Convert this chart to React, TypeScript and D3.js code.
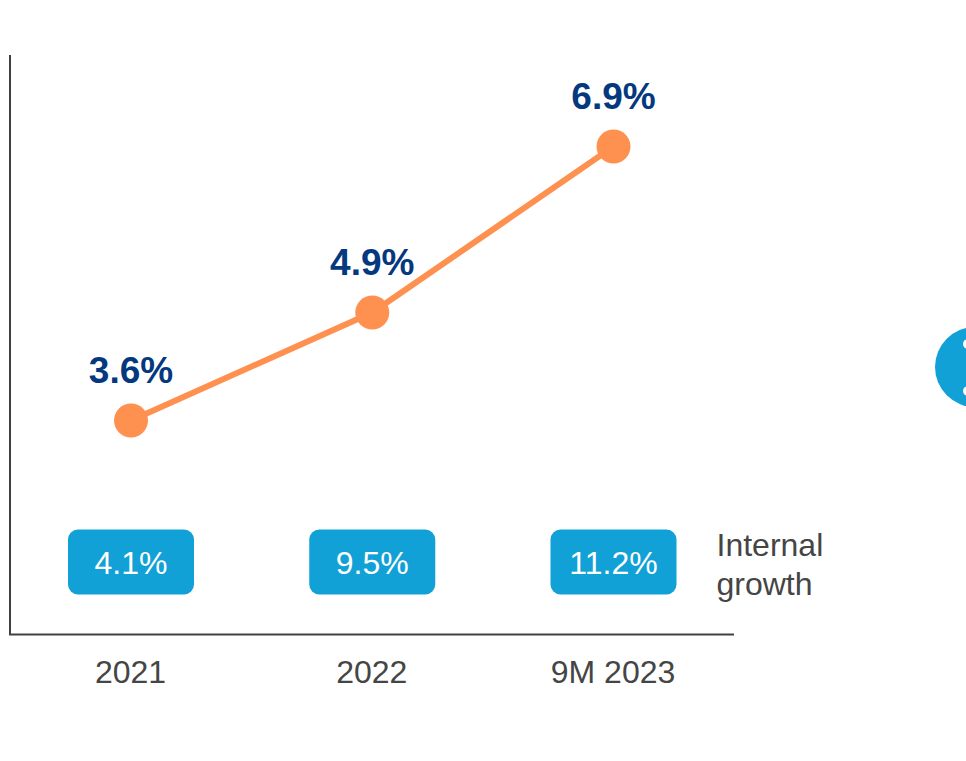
import React from "react";
import * as d3 from "d3";

const categories = ["2021", "2022", "9M 2023"];
const margins = [3.6, 4.9, 6.9];
const marginLabels = ["3.6%", "4.9%", "6.9%"];
const internalGrowth = ["4.1%", "9.5%", "11.2%"];
const growthTitle = ["Internal", "growth"];

const font = "Liberation Sans, Arial, sans-serif";

export default function App() {
  const x = d3.scalePoint<string>().domain(categories).range([131, 613.5]);
  // Two anchors on the vertical axis: 3.6% and 6.9%
  const y = d3.scaleLinear().domain([3.6, 6.9]).range([420.5, 146.5]);
  const path = d3
    .line<number>()
    .x((_, i) => x(categories[i])!)
    .y((d) => y(d))(margins)!;

  return (
    <svg
      width={966}
      height={761}
      style={{ position: "fixed", left: 0, top: 0, display: "block", background: "#fff" }}
      fontFamily={font}
    >
      <line x1={10} y1={55} x2={10} y2={635} stroke="#404040" strokeWidth={2} />
      <line x1={9} y1={634.5} x2={734} y2={634.5} stroke="#404040" strokeWidth={2} />
      <path d={path} fill="none" stroke="#FF9150" strokeWidth={6} />
      {margins.map((m, i) => (
        <g key={categories[i]}>
          <circle cx={x(categories[i])} cy={y(m)} r={17} fill="#FF9150" />
          <text
            x={x(categories[i])}
            y={y(m) - 37.5}
            textAnchor="middle"
            fontSize={37}
            fontWeight={700}
            fill="#04387F"
          >
            {marginLabels[i]}
          </text>
          <rect
            x={x(categories[i])! - 63}
            y={529.5}
            width={126}
            height={65}
            rx={10}
            fill="#11A1D6"
          />
          <text x={x(categories[i])} y={574} textAnchor="middle" fontSize={32} fill="#fff">
            {internalGrowth[i]}
          </text>
          <text x={x(categories[i]) ! - 0.5} y={683} textAnchor="middle" fontSize={32} fill="#454545">
            {categories[i]}
          </text>
        </g>
      ))}
      {growthTitle.map((t, i) => (
        <text key={t} x={716.5} y={556 + i * 39} fontSize={32} fill="#454545">
          {t}
        </text>
      ))}
      <circle cx={975} cy={367} r={40} fill="#11A1D6" />
      <circle cx={968} cy={344} r={5} fill="#fff" />
      <circle cx={968} cy={391} r={5} fill="#fff" />
    </svg>
  );
}
